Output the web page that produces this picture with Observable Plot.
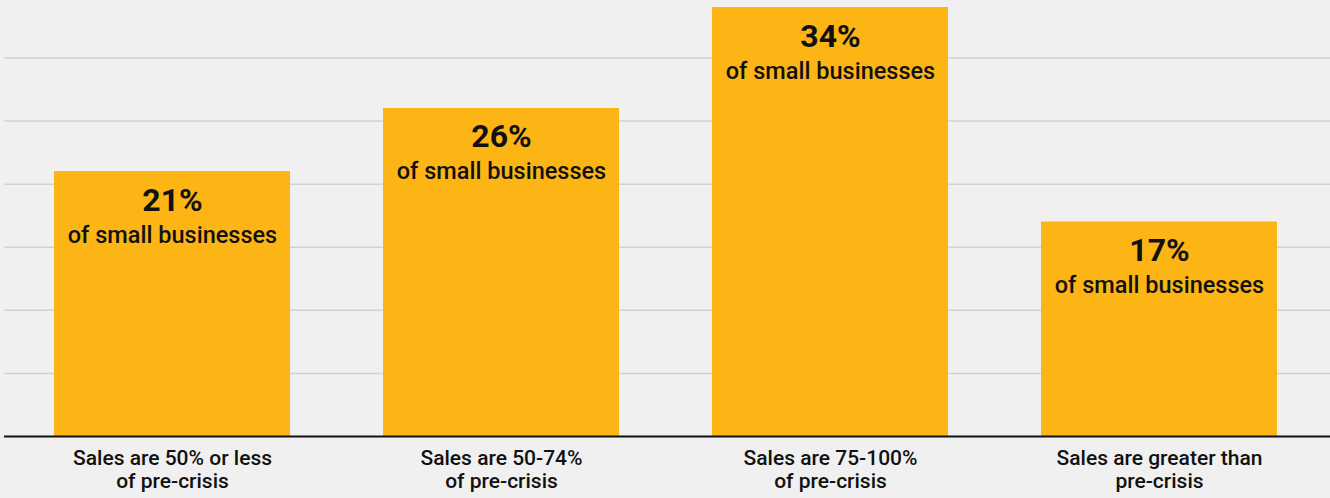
<!DOCTYPE html>
<html>
<head>
<meta charset="utf-8">
<script src="https://cdn.jsdelivr.net/npm/d3@7"></script>
<script src="https://cdn.jsdelivr.net/npm/@observablehq/plot@0.6"></script>
<style>
  html, body { margin: 0; padding: 0; background: #f0f0f0; }
  #chart svg { display: block; }
</style>
</head>
<body>
<div id="chart"></div>
<script>
const categories = [
  "Sales are 50% or less\nof pre-crisis",
  "Sales are 50-74%\nof pre-crisis",
  "Sales are 75-100%\nof pre-crisis",
  "Sales are greater than\npre-crisis"
];
const shares = [21, 26, 34, 17];
const subLabel = "of small businesses";
const gridTicks = [5, 10, 15, 20, 25, 30];

const data = categories.map((c, i) => ({category: c, value: shares[i]}));

const chart = Plot.plot({
  width: 1330,
  height: 498,
  marginTop: 7,
  marginBottom: 62,
  marginLeft: 4,
  marginRight: 0,
  style: {background: "#f0f0f0", fontFamily: "Roboto, sans-serif", color: "#111"},
  x: {domain: categories, range: [6.5, 1323.7], paddingInner: 0.283, paddingOuter: 0.1415, label: null},
  y: {domain: [0, 34], axis: null},
  marks: [
    Plot.ruleY(gridTicks, {stroke: "#d2d2d2", strokeWidth: 1.5}),
    Plot.barY(data, {x: "category", y: "value", fill: "#fcb515"}),
    Plot.ruleY([0], {stroke: "#111", strokeWidth: 2}),
    Plot.text(data, {x: "category", y: "value", text: d => d.value + "%", dy: 39, fontSize: 32, fontWeight: 700, fill: "#111", lineAnchor: "bottom"}),
    Plot.text(data, {x: "category", y: "value", text: () => subLabel, dy: 71, fontSize: 23.5, fontWeight: 500, fill: "#111", lineAnchor: "bottom"}),
    Plot.axisX({tickSize: 0, tickPadding: 11, fontSize: 21, fontWeight: 500, lineHeight: 1.14, fill: "#111", label: null})
  ]
});
document.getElementById("chart").appendChild(chart);
</script>
</body>
</html>
